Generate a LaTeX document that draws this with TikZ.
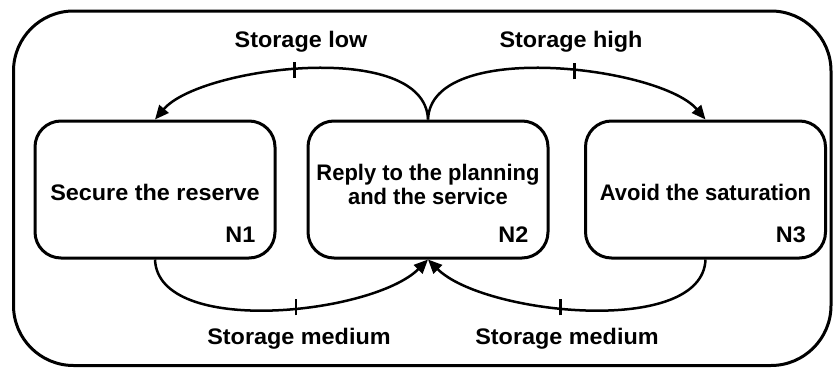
\documentclass[tikz,border=0pt]{standalone}
\usepackage{fontspec}
\setmainfont{Liberation Sans}[FakeStretch=1.04]
\newfontfamily\narrowfont{Liberation Sans}[FakeStretch=0.975]
\usetikzlibrary{arrows.meta,decorations.markings}
\begin{document}
\begin{tikzpicture}[x=1pt,y=-1pt,
  txt/.style={font=\fontsize{22.5}{23.5}\selectfont\bfseries,inner sep=0pt},
  ntxt/.style={font=\narrowfont\fontsize{22.5}{23.5}\selectfont\bfseries,inner sep=0pt},
  box/.style={draw,line width=3pt,rounded corners=26pt,minimum width=240pt,minimum height=137pt,inner sep=0pt},
  conn/.style={line width=2.5pt,-{Triangle[length=14pt,width=12pt]},
    decoration={markings,mark=at position #1 with {\pgftransformresetnontranslations\draw[line width=2.5pt,-] (0,-8pt) -- (0,8pt);}},
    postaction={decorate}},
  nlab/.style={txt,anchor=base east,xshift=-21pt,yshift=17pt}]
\useasboundingbox (0,0) rectangle (833,367);
\draw[line width=3pt,rounded corners=60pt] (13.5,11) rectangle (831,365.5);
\node[box,label={[txt,anchor=base,yshift=-3.3pt]center:Secure the reserve},
  label={[nlab]south east:N1}] (n1) at (155,189.5) {};
\node[box,label={[ntxt,align=center,anchor=center,yshift=5pt]center:Reply to the planning\\and the service},
  label={[nlab]south east:N2}] (n2) at (428,189.5) {};
\node[box,label={[ntxt,anchor=base,yshift=-3.3pt]center:Avoid the saturation},
  label={[nlab]south east:N3}] (n3) at (705.5,189.5) {};
\draw[conn=0.51] (n2.north) .. controls +(-3,-81) and +(45,-53) .. (n1.north);
\draw[conn=0.545] (n2.north) .. controls +(3,-81) and +(-45,-53) .. (n3.north);
\draw[conn=0.535] (n1.south) .. controls +(3,78) and +(-55,55) .. (n2.south);
\draw[conn=0.54] (n3.south) .. controls +(-3,78) and +(55,55) .. (n2.south);
\node[txt,anchor=base] (lo) at (301,47.3) {Storage low};
\node[txt,anchor=base] (hi) at (571,47.3) {Storage high};
\node[txt,anchor=base] (m1) at (299,344) {Storage medium};
\node[txt,anchor=base] (m2) at (567,344) {Storage medium};
\end{tikzpicture}
\end{document}
